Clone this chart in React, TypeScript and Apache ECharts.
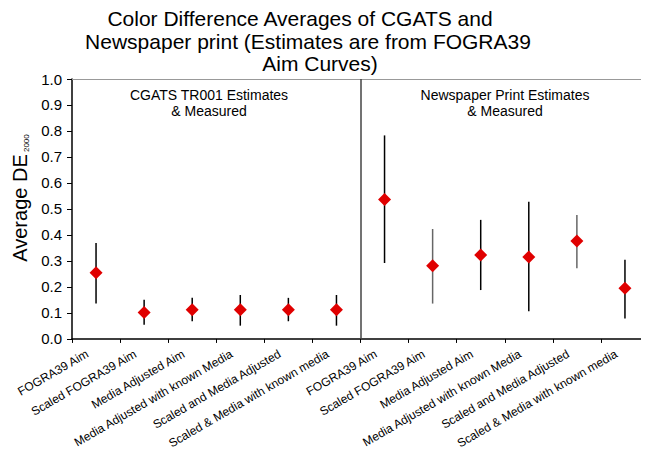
import React, { useEffect, useRef } from "react";
import * as echarts from "echarts";

const categories = [
  "FOGRA39 Aim",
  "Scaled FOGRA39 Aim",
  "Media Adjusted Aim",
  "Media Adjusted with known Media",
  "Scaled and Media Adjusted",
  "Scaled & Media with known media",
  "FOGRA39 Aim",
  "Scaled FOGRA39 Aim",
  "Media Adjusted Aim",
  "Media Adjusted with known Media",
  "Scaled and Media Adjusted",
  "Scaled & Media with known media",
];
const means = [0.255, 0.102, 0.112, 0.112, 0.112, 0.112, 0.536, 0.282, 0.323, 0.315, 0.377, 0.195];
const lows = [0.136, 0.055, 0.068, 0.051, 0.068, 0.051, 0.292, 0.136, 0.188, 0.106, 0.272, 0.079];
const highs = [0.369, 0.151, 0.158, 0.169, 0.158, 0.169, 0.783, 0.423, 0.458, 0.528, 0.477, 0.305];
const barColors = ["#000", "#000", "#000", "#000", "#000", "#000", "#000", "#666", "#000", "#000", "#666", "#000"];
const dividerAt = 6;
const yTicks = { min: 0, max: 1, interval: 0.1 };
const titleLines = [
  "Color Difference Averages of CGATS and",
  "Newspaper print (Estimates are from FOGRA39",
  "Aim Curves)",
];
const panelLabels = ["CGATS TR001 Estimates\n& Measured", "Newspaper Print Estimates\n& Measured"];

const FONT = "'Liberation Sans', Arial, Helvetica, sans-serif";

export default function App() {
  const ref = useRef<HTMLDivElement>(null);
  useEffect(() => {
    if (!ref.current) return;
    const chart = echarts.init(ref.current, undefined, { renderer: "svg" });
    chart.setOption({
      animation: false,
      backgroundColor: "#fff",
      textStyle: { fontFamily: FONT },
      grid: { left: 72, top: 79, width: 584, bottom: 112, containLabel: false },
      graphic: [
        { type: "text", x: 300, y: 18, style: { text: titleLines[0], font: `21px ${FONT}`, fill: "#000", align: "center", verticalAlign: "middle" } },
        { type: "text", x: 308, y: 41, style: { text: titleLines[1], font: `21px ${FONT}`, fill: "#000", align: "center", verticalAlign: "middle" } },
        { type: "text", x: 320, y: 63, style: { text: titleLines[2], font: `21px ${FONT}`, fill: "#000", align: "center", verticalAlign: "middle" } },
        { type: "text", x: 209, y: 103, style: { text: panelLabels[0], font: `14px ${FONT}`, fill: "#000", align: "center", verticalAlign: "middle", lineHeight: 16 } },
        { type: "text", x: 505, y: 103, style: { text: panelLabels[1], font: `14px ${FONT}`, fill: "#000", align: "center", verticalAlign: "middle", lineHeight: 16 } },
        {
          type: "text",
          x: 20,
          y: 198,
          rotation: Math.PI / 2,
          style: {
            text: "{a|Average DE}{b| 2000}",
            align: "center",
            verticalAlign: "middle",
            fill: "#000",
            rich: {
              a: { fontSize: 20, fontFamily: FONT, fill: "#000", verticalAlign: "bottom" },
              b: { fontSize: 8, fontFamily: FONT, fill: "#000", verticalAlign: "bottom" },
            },
          },
        },
      ],
      xAxis: [
        {
          type: "category",
          data: categories,
          boundaryGap: true,
          axisLine: { lineStyle: { color: "#000", width: 1.5 } },
          axisTick: { show: true, length: 4, lineStyle: { color: "#000" } },
          axisLabel: { interval: 0, rotate: 30, fontSize: 12, color: "#000", margin: 9, padding: [0, 10, 0, 0], fontFamily: FONT },
          splitLine: { show: false },
        },
        {
          type: "category",
          data: categories,
          position: "top",
          axisLine: { show: true, lineStyle: { color: "#999", width: 1 } },
          axisTick: { show: false },
          axisLabel: { show: false },
        },
        {
          type: "value",
          min: 0,
          max: categories.length,
          show: false,
        },
      ],
      yAxis: {
        type: "value",
        min: yTicks.min,
        max: yTicks.max,
        interval: yTicks.interval,
        axisLine: { show: true, lineStyle: { color: "#000", width: 1.5 } },
        axisTick: { show: true, length: 5, lineStyle: { color: "#000" } },
        axisLabel: { fontSize: 15, color: "#000", margin: 10, fontFamily: FONT, formatter: (v: number) => v.toFixed(1) },
        splitLine: { show: false },
      },
      series: [
        {
          type: "scatter",
          xAxisIndex: 2,
          data: [],
          silent: true,
          markLine: {
            silent: true,
            symbol: "none",
            label: { show: false },
            lineStyle: { color: "#444", width: 1.5, type: "solid" },
            data: [{ xAxis: dividerAt }],
          },
        },
        {
          type: "custom",
          renderItem: (params: any, api: any) => {
            const x = api.value(0);
            const lo = api.coord([x, api.value(1)]);
            const hi = api.coord([x, api.value(2)]);
            return {
              type: "line",
              shape: { x1: lo[0], y1: lo[1], x2: hi[0], y2: hi[1] },
              style: { stroke: barColors[params.dataIndex], lineWidth: 1.5 },
            };
          },
          encode: { x: 0, y: [1, 2] },
          data: categories.map((_, i) => [i, lows[i], highs[i]]),
          z: 2,
        },
        {
          type: "scatter",
          symbol: "diamond",
          symbolSize: 13,
          itemStyle: { color: "#e00000", opacity: 1 },
          data: means.map((v, i) => [i, v]),
          z: 3,
        },
      ],
    });
    return () => chart.dispose();
  }, []);
  return <div ref={ref} style={{ width: 649, height: 451, marginLeft: -8, marginTop: -8 }} />;
}
